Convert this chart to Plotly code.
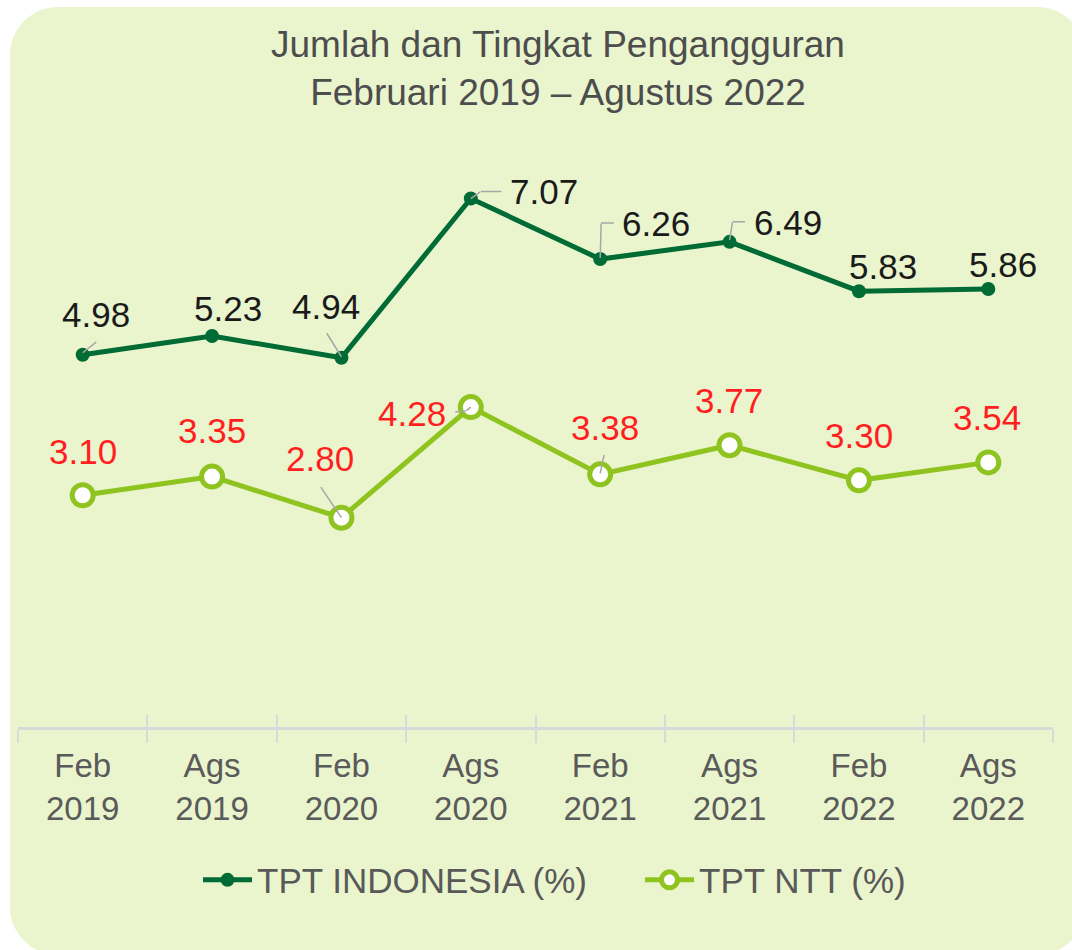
import plotly.graph_objects as go

# ---------------- data ----------------
categories = ["Feb<br>2019", "Ags<br>2019", "Feb<br>2020", "Ags<br>2020",
              "Feb<br>2021", "Ags<br>2021", "Feb<br>2022", "Ags<br>2022"]
tpt_indonesia = [4.98, 5.23, 4.94, 7.07, 6.26, 6.49, 5.83, 5.86]
tpt_ntt = [3.10, 3.35, 2.80, 4.28, 3.38, 3.77, 3.30, 3.54]

# label offsets (pixels, text centre relative to point)
ind_dx = [13, 16, -15, 73, 56, 58, 24, 15]
ind_dy = [-40, -28, -51, -7, -36, -19, -25, -24]
ntt_dx = [0, 0, -21, -59, 5, -1, 0, -1]
ntt_dy = [-44, -46, -59, 6, -47, -45, -45, -45]

# leader-line segments (start dx, dy, end dx, dy) relative to the point
ind_leaders = [
    [(0, -2, 14, -13)],
    [],
    [(0, -1, -15, -25)],
    [(0, 0, 10, -7), (10, -7, 31, -7)],
    [(0, -1, 1, -36), (1, -36, 14, -36)],
    [(0, -2, 3, -20), (3, -20, 16, -20)],
    [],
    [],
]
ntt_leaders = [
    [],
    [],
    [(0, 0, -21, -31)],
    [(0, 0, -5, 4), (-5, 4, -16, 5)],
    [(0, -1, 4, -20)],
    [],
    [],
    [],
]

# ---------------- styles ----------------
W, H = 1072, 950
ML, MR, MT, MB = 18, 19, 129, 223
PW = W - ML - MR
PH = H - MT - MB
BOTTOM = H - MB

DARK = "#006B35"
LIGHT = "#8FC31F"
BG = "#EAF5CD"
SANS = "Liberation Sans, Arial, sans-serif"

fig = go.Figure()

fig.add_trace(go.Scatter(
    x=categories, y=tpt_indonesia, mode="lines+markers",
    name="TPT INDONESIA (%)",
    line=dict(color=DARK, width=5),
    marker=dict(size=14, color=DARK),
    hoverinfo="skip",
))
fig.add_trace(go.Scatter(
    x=categories, y=tpt_ntt, mode="lines+markers",
    name="TPT NTT (%)",
    line=dict(color=LIGHT, width=5),
    marker=dict(size=21, color="white", line=dict(color=LIGHT, width=5)),
    hoverinfo="skip",
))
# invisible helper trace so the overlaying axis (inner ticks) renders
fig.add_trace(go.Scatter(
    x=categories, y=tpt_ntt, xaxis="x2", mode="markers",
    marker=dict(size=1, opacity=0), showlegend=False, hoverinfo="skip",
))


def add_labels(values, dxs, dys, leaders, color):
    for c, v, dx, dy, segs in zip(categories, values, dxs, dys, leaders):
        for sx, sy, ex, ey in segs:
            fig.add_annotation(x=c, y=v, text="", showarrow=True,
                               arrowhead=0, arrowwidth=1.5,
                               arrowcolor="#A6A6A6",
                               xshift=sx, yshift=-sy,
                               ax=ex - sx, ay=ey - sy,
                               standoff=0, startstandoff=0, borderpad=0)
        fig.add_annotation(x=c, y=v, text=f"{v:.2f}", showarrow=False,
                           xshift=dx, yshift=-dy,
                           font=dict(family=SANS, size=35, color=color))


add_labels(tpt_indonesia, ind_dx, ind_dy, ind_leaders, "#1A1A1A")
add_labels(tpt_ntt, ntt_dx, ntt_dy, ntt_leaders, "#FF1F1F")


# rounded background panel
def P(px, py):
    return f"{(px - ML) / PW:.5f},{(BOTTOM - py) / PH:.5f}"


x0, y0, x1, y1, r = 10, 7, 1085, 955, 48
kr = 0.5523 * r
path = (f"M {P(x0 + r, y0)} L {P(x1 - r, y0)} "
        f"C {P(x1 - r + kr, y0)} {P(x1, y0 + r - kr)} {P(x1, y0 + r)} "
        f"L {P(x1, y1 - r)} "
        f"C {P(x1, y1 - r + kr)} {P(x1 - r + kr, y1)} {P(x1 - r, y1)} "
        f"L {P(x0 + r, y1)} "
        f"C {P(x0 + r - kr, y1)} {P(x0, y1 - r + kr)} {P(x0, y1 - r)} "
        f"L {P(x0, y0 + r)} "
        f"C {P(x0, y0 + r - kr)} {P(x0 + r - kr, y0)} {P(x0 + r, y0)} Z")
fig.add_shape(type="path", path=path, xref="paper", yref="paper",
              fillcolor=BG, line=dict(width=0), layer="below")

fig.update_layout(
    width=W, height=H, autosize=False,
    margin=dict(l=ML, r=MR, t=MT, b=MB, autoexpand=False),
    paper_bgcolor="white", plot_bgcolor="rgba(0,0,0,0)",
    title=dict(
        text="Jumlah dan Tingkat Pengangguran<br>Februari 2019 – Agustus 2022",
        font=dict(family=SANS, size=37, color="#4D4D4D"),
        x=558 / W, xref="container", xanchor="center",
        y=1 - 57 / H, yref="container", yanchor="middle",
    ),
    xaxis=dict(
        type="category", range=[-0.5, 7.5], automargin=False,
        showline=True, linecolor="#D9D9D9", linewidth=3,
        ticks="outside", tickson="boundaries", ticklen=13, tickwidth=2,
        tickcolor="#D9D9D9", showgrid=False, zeroline=False,
        tickfont=dict(family=SANS, size=33, color="#5A5A5A"),
        ticklabelstandoff=7, tickangle=0, fixedrange=True,
    ),
    xaxis2=dict(
        type="category", range=[-0.5, 7.5], overlaying="x", anchor="y",
        side="bottom", showline=False, automargin=False,
        ticks="inside", tickson="boundaries", ticklen=12, tickwidth=2,
        tickcolor="#D9D9D9", showgrid=False, zeroline=False,
        showticklabels=False,
    ),
    yaxis=dict(range=[0, 8], visible=False, fixedrange=True),
    legend=dict(
        orientation="h", x=(640 - ML) / PW, xref="paper", xanchor="center",
        y=-0.256, yanchor="middle",
        font=dict(family=SANS, size=35, color="#595959"),
        bgcolor="rgba(0,0,0,0)", itemsizing="trace",
        entrywidth=378, itemwidth=49,
    ),
    showlegend=True,
)

fig.write_html(
    "out.html",
    config={"displayModeBar": False},
    post_script="document.body.style.margin='0';"
                "document.body.style.overflow='hidden';",
)
